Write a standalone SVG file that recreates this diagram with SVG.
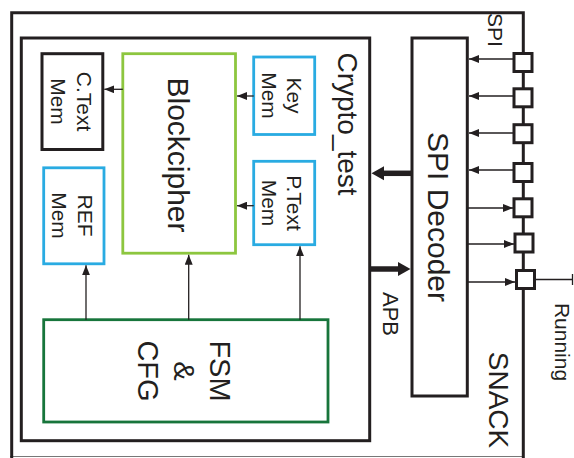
<svg xmlns="http://www.w3.org/2000/svg" width="574" height="458" viewBox="0 0 574 458">
<defs>
<style>
.box{fill:none;stroke:#231f20;stroke-width:3}
.blue{fill:#fff;stroke:#29abe2;stroke-width:2.8}
.lg{fill:#fff;stroke:#8dc63f;stroke-width:2.8}
.dg{fill:#fff;stroke:#17753b;stroke-width:2.8}
.pad{fill:#fff;stroke:#231f20;stroke-width:3}
.t{font-family:"Liberation Sans",Arial,sans-serif;fill:#231f20;text-anchor:middle}
.thin{stroke:#231f20;stroke-width:1.3;fill:none}
.thick{stroke:#231f20;stroke-width:5.5;fill:none}
</style>
<marker id="ah" viewBox="0 0 10 8" refX="10" refY="4" markerWidth="10" markerHeight="8" markerUnits="userSpaceOnUse" orient="auto">
<path d="M0,0 L10,4 L0,8 z" fill="#231f20"/>
</marker>
</defs>
<rect width="574" height="458" fill="#fff"/>

<g id="snack">
<line x1="10" y1="456.5" x2="524" y2="456.5" stroke="#777" stroke-width="1"/>
<path class="box" d="M11.7,458 V12.7 H523.3 V458"/>
<text class="t" font-size="28" transform="translate(489,400) rotate(90)">SNACK</text>
<text class="t" font-size="21" transform="translate(488,30) rotate(90)">SPI</text>
</g>

<g id="crypto_test">
<rect class="box" x="21.3" y="38" width="348.4" height="402.7"/>
<text class="t" font-size="28" transform="translate(338,124) rotate(90)">Crypto_test</text>
</g>

<g id="spi_decoder">
<rect class="box" x="412" y="38" width="55.3" height="358"/>
<text class="t" font-size="30" transform="translate(428,217) rotate(90)">SPI Decoder</text>
</g>

<g id="blockcipher">
<rect class="lg" x="122.8" y="53.7" width="112.7" height="199.5"/>
<text class="t" font-size="30" transform="translate(168,155) rotate(90)">Blockcipher</text>
</g>

<g id="ctext_mem">
<rect class="box" x="42" y="53.7" width="60.8" height="95.8"/>
<text class="t" font-size="21" transform="translate(77,101.5) rotate(90)"><tspan x="0" y="0">C.Text</tspan><tspan x="0" y="26">Mem</tspan></text>
</g>

<g id="ref_mem">
<rect class="blue" x="43.7" y="167.8" width="60.3" height="96"/>
<text class="t" font-size="21" transform="translate(78,215.5) rotate(90)"><tspan x="0" y="0">REF</tspan><tspan x="0" y="26">Mem</tspan></text>
</g>

<g id="key_mem">
<rect class="blue" x="253.7" y="57" width="61" height="77.5"/>
<text class="t" font-size="21" transform="translate(287,95.5) rotate(90)"><tspan x="0" y="0">Key</tspan><tspan x="0" y="25">Mem</tspan></text>
</g>

<g id="ptext_mem">
<rect class="blue" x="253.7" y="161.3" width="61" height="83.4"/>
<text class="t" font-size="21" transform="translate(287,203) rotate(90)"><tspan x="0" y="0">P.Text</tspan><tspan x="0" y="25">Mem</tspan></text>
</g>

<g id="fsm_cfg">
<rect class="dg" x="43.7" y="319.7" width="284.3" height="102.3"/>
<text class="t" font-size="29" transform="translate(210,371) rotate(90)"><tspan x="0" y="0">FSM</tspan><tspan x="0" y="36">&amp;</tspan><tspan x="0" y="72">CFG</tspan></text>
</g>

<g id="connectors">
<line class="thin" x1="122.8" y1="89.3" x2="104.3" y2="89.3" marker-end="url(#ah)"/>
<line class="thin" x1="253.7" y1="96" x2="237" y2="96" marker-end="url(#ah)"/>
<line class="thin" x1="253.7" y1="205.7" x2="237" y2="205.7" marker-end="url(#ah)"/>
<line class="thin" x1="86" y1="319.7" x2="86" y2="265.3" marker-end="url(#ah)"/>
<line class="thin" x1="188.7" y1="319.7" x2="188.7" y2="254.7" marker-end="url(#ah)"/>
<line class="thin" x1="300" y1="319.7" x2="300" y2="246.2" marker-end="url(#ah)"/>
<line class="thick" x1="412" y1="173.3" x2="383" y2="173.3"/>
<path d="M371.5,173.3 L384,166.3 L384,180.3 z" fill="#231f20"/>
<line class="thick" x1="369.7" y1="269" x2="399" y2="269"/>
<path d="M410.5,269 L398,262 L398,276 z" fill="#231f20"/>
<text class="t" font-size="22" transform="translate(383,314) rotate(90)">APB</text>
<line class="thin" x1="513" y1="59" x2="469" y2="59" marker-end="url(#ah)"/>
<line class="thin" x1="513" y1="96" x2="469" y2="96" marker-end="url(#ah)"/>
<line class="thin" x1="513" y1="133" x2="469" y2="133" marker-end="url(#ah)"/>
<line class="thin" x1="513" y1="170" x2="469" y2="170" marker-end="url(#ah)"/>
<line class="thin" x1="467.3" y1="208" x2="513" y2="208" marker-end="url(#ah)"/>
<line class="thin" x1="467.3" y1="244" x2="514" y2="244" marker-end="url(#ah)"/>
<line class="thin" x1="467.3" y1="282" x2="515" y2="282" marker-end="url(#ah)"/>
<line class="thin" x1="536" y1="279.5" x2="572.5" y2="279.5"/>
<line class="thin" x1="572.5" y1="274" x2="572.5" y2="285"/>
<text class="t" font-size="21" transform="translate(555,342) rotate(90)">Running</text>
</g>

<g id="pads">
<rect class="pad" x="514" y="53.5" width="18" height="18"/>
<rect class="pad" x="514" y="88.8" width="18" height="18"/>
<rect class="pad" x="514" y="124.7" width="18" height="18"/>
<rect class="pad" x="514" y="163.5" width="18" height="18"/>
<rect class="pad" x="514" y="198.8" width="18" height="18"/>
<rect class="pad" x="515" y="234" width="18" height="18"/>
<rect class="pad" x="516.5" y="270.5" width="18" height="18"/>
</g>
</svg>
